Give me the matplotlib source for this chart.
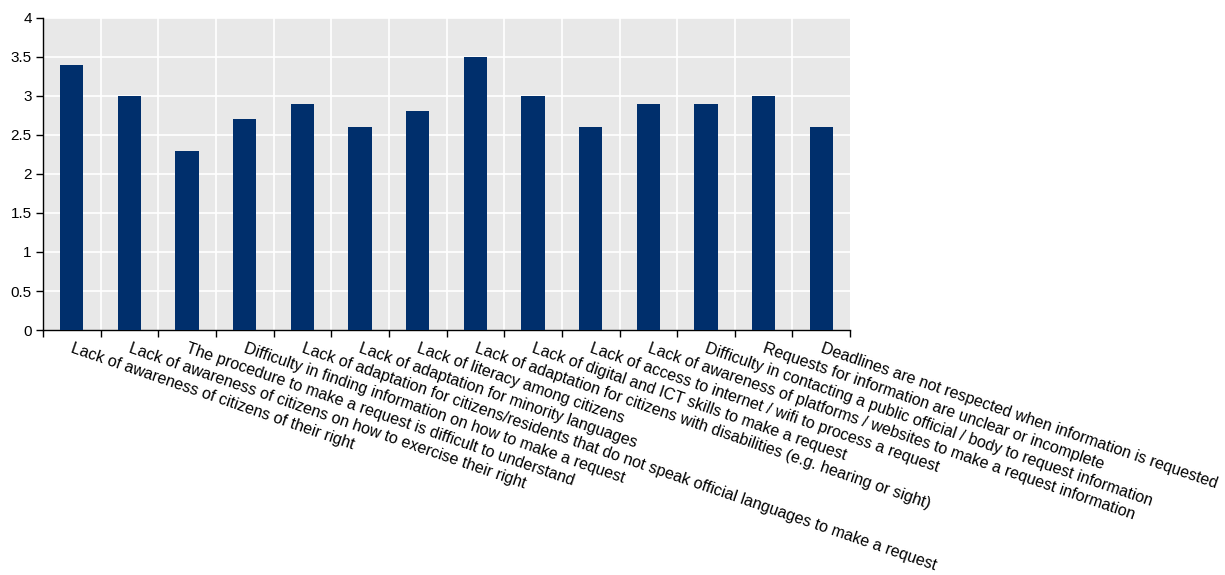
import matplotlib
matplotlib.use("Agg")
import matplotlib.pyplot as plt
import numpy as np

categories = [
    "Lack of awareness of citizens of their right",
    "Lack of awareness of citizens on how to exercise their right",
    "The procedure to make a request is difficult to understand",
    "Difficulty in finding information on how to make a request",
    "Lack of adaptation for citizens/residents that do not speak official languages to make a request",
    "Lack of adaptation for minority languages",
    "Lack of literacy among citizens",
    "Lack of adaptation for citizens with disabilities (e.g. hearing or sight)",
    "Lack of digital and ICT skills to make a request",
    "Lack of access to internet / wifi to process a request",
    "Lack of awareness of platforms / websites to make a request information",
    "Difficulty in contacting a public official / body to request information",
    "Requests for information are unclear or incomplete",
    "Deadlines are not respected when information is requested",
]
values = [3.4, 3.0, 2.3, 2.7, 2.9, 2.6, 2.8, 3.5, 3.0, 2.6, 2.9, 2.9, 3.0, 2.6]
y_ticks = [0, 0.5, 1, 1.5, 2, 2.5, 3, 3.5, 4]
y_tick_labels = ["0", "0.5", "1", "1.5", "2", "2.5", "3", "3.5", "4"]

plt.rcParams["font.family"] = ["Liberation Sans", "DejaVu Sans"]

fig = plt.figure(figsize=(12.25, 5.75), dpi=100)
ax = fig.add_axes([0.035, 0.426, 0.659, 0.543])

x = np.arange(len(categories))
ax.set_facecolor("#e8e8e8")
ax.bar(x, values, width=0.4, color="#002f6c", zorder=3)

ax.set_xlim(-0.5, len(categories) - 0.5)
ax.set_ylim(0, 4)
ax.set_yticks(y_ticks)
ax.set_yticklabels(y_tick_labels, fontsize=11)

# white separators between categories + horizontal grid
bounds = np.arange(-0.5, len(categories) + 0.5)
for b in bounds[1:-1]:
    ax.axvline(b, color="white", lw=1.2, zorder=1)
for yt in y_ticks[1:]:
    ax.axhline(yt, color="white", lw=1.2, zorder=1)

ax.set_xticks(bounds)
ax.set_xticklabels([])
ax.tick_params(axis="x", length=5, direction="out", width=1)
ax.tick_params(axis="y", length=5, direction="out", width=1, pad=3)

for xi, label in zip(x, categories):
    ax.annotate(label, xy=(xi, 0), xycoords=("data", "axes fraction"),
                xytext=(1.5, -7.5), textcoords="offset points",
                rotation=-19, rotation_mode="anchor", ha="left", va="top",
                fontsize=11.5)

for side in ["top", "right"]:
    ax.spines[side].set_visible(False)
ax.spines["left"].set_linewidth(1)
ax.spines["bottom"].set_linewidth(1)

fig.savefig("out.png", dpi=100)
